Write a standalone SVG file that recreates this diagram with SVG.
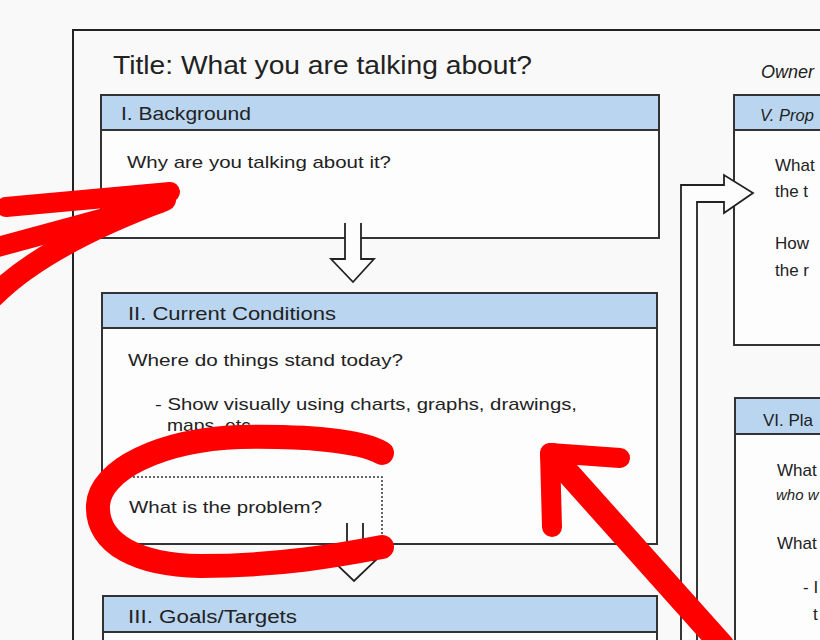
<svg xmlns="http://www.w3.org/2000/svg" width="820" height="640" viewBox="0 0 820 640">
<style>
text{font-family:"Liberation Sans","Open Sans",sans-serif;fill:#222}
.title{font-size:25px}
.hd{font-size:19px}
.bd{font-size:17px}
.it{font-style:italic}
.box{fill:#fdfdfd;stroke:#333;stroke-width:2}
.band{fill:#b9d5f0;stroke:#333;stroke-width:2}
.arrow{fill:#fdfdfd;stroke:#222;stroke-width:1.8;stroke-linejoin:miter}
.red{fill:none;stroke:#ff0000;stroke-linecap:round;stroke-linejoin:round}
</style>
<rect x="0" y="0" width="820" height="640" fill="#f9f9f9"/>
<rect x="73" y="30" width="800" height="700" fill="none" stroke="#222" stroke-width="2"/>
<text class="title" x="113" y="74" textLength="419" lengthAdjust="spacingAndGlyphs">Title: What you are talking about?</text>
<text class="it" x="761" y="78" font-size="18">Owner</text>

<g id="background">
<rect class="box" x="101" y="95" width="558" height="143"/>
<rect class="band" x="101" y="95" width="558" height="35"/>
<text class="hd" x="121" y="120" textLength="130" lengthAdjust="spacingAndGlyphs">I. Background</text>
<text class="bd" x="127" y="168" textLength="264" lengthAdjust="spacingAndGlyphs">Why are you talking about it?</text>
</g>

<g id="current-conditions">
<rect class="box" x="102" y="293" width="555" height="251"/>
<rect class="band" x="102" y="293" width="555" height="35"/>
<text class="hd" x="128" y="320" textLength="208" lengthAdjust="spacingAndGlyphs">II. Current Conditions</text>
<text class="bd" x="128" y="366" textLength="275" lengthAdjust="spacingAndGlyphs">Where do things stand today?</text>
<text class="bd" x="155" y="410" textLength="422" lengthAdjust="spacingAndGlyphs">- Show visually using charts, graphs, drawings,</text>
<text class="bd" x="167" y="431" textLength="89" lengthAdjust="spacingAndGlyphs">maps, etc.</text>
</g>

<g id="problem">
<path d="M125,477 H382 V543" fill="none" stroke="#333" stroke-width="1.5" stroke-dasharray="2,2"/>
<text class="bd" x="129" y="513" textLength="193" lengthAdjust="spacingAndGlyphs">What is the problem?</text>
</g>

<g id="goals-targets">
<rect class="box" x="103" y="596" width="554" height="100"/>
<rect class="band" x="103" y="596" width="554" height="36"/>
<text class="hd" x="128" y="623" textLength="169" lengthAdjust="spacingAndGlyphs">III. Goals/Targets</text>
</g>

<g id="proposal">
<rect class="box" x="734" y="95" width="150" height="250"/>
<rect class="band" x="734" y="95" width="150" height="35"/>
<text class="it" x="760" y="121" font-size="16.5">V. Prop</text>
<text class="bd" x="775" y="171">What</text>
<text class="bd" x="775" y="197">the t</text>
<text class="bd" x="775" y="249">How</text>
<text class="bd" x="775" y="276">the r</text>
</g>

<g id="plan">
<rect class="box" x="735" y="398" width="150" height="300"/>
<rect class="band" x="735" y="398" width="150" height="36"/>
<text x="763" y="426" font-size="17">VI. Pla</text>
<text class="bd" x="777" y="476">What</text>
<text class="it" x="776" y="500" font-size="15">who w</text>
<text class="bd" x="777" y="549">What</text>
<text class="bd" x="803" y="593">- I</text>
<text class="bd" x="813" y="620">t</text>
</g>

<g id="connectors">
<path class="arrow" d="M345,223 V259 H331 L353,282 L374,259 H361 V223"/>
<path class="arrow" d="M347,523 V560 H332 L354,581 L376,560 H363 V523"/>
<path class="arrow" d="M681,645 V185 H724 V175 L753,193 L724,213 V202 H697 V645"/>
</g>

<g id="annotations">
<path class="red" stroke-width="20" d="M6,207 L170,192"/>
<path class="red" stroke-width="20" d="M-6,248 L160,203"/>
<path class="red" stroke-width="22" d="M-6,296 Q45,245 165,200"/>
<path class="red" stroke-width="24" d="M382,453 C360,440 300,436 240,437 C160,440 100,470 98,505 C96,545 140,565 200,566 C280,566 340,555 382,547"/>
<path class="red" stroke-width="24" d="M722,645 L552,455"/>
<path class="red" stroke-width="20" d="M552,527 L550,453 L620,458"/>
</g>
</svg>
